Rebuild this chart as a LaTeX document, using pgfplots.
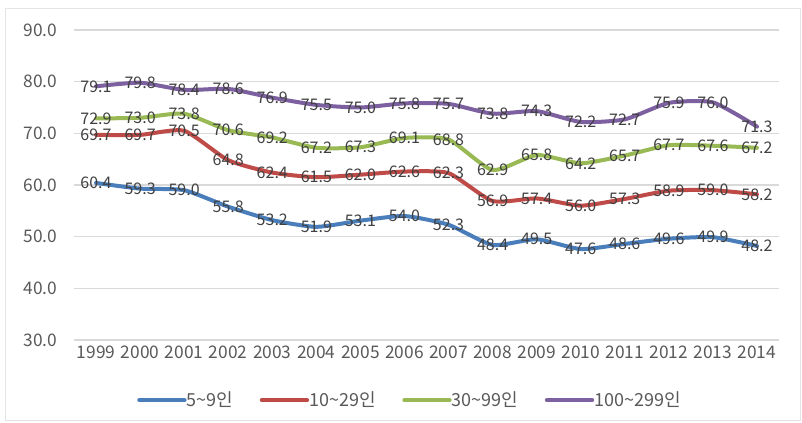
\documentclass[border=0pt]{standalone}
\usepackage{fontspec}
\setmainfont{Noto Sans CJK KR}
\usepackage{pgfplots}
\pgfplotsset{compat=1.18}
\usepackage{pgfplotstable}

\definecolor{sBlue}{HTML}{4A7EBB}
\definecolor{sRed}{HTML}{BE4B48}
\definecolor{sGreen}{HTML}{98B954}
\definecolor{sPurple}{HTML}{7D60A0}
\definecolor{gridgray}{HTML}{D9D9D9}
\definecolor{ticktext}{HTML}{595959}
\definecolor{labeltext}{HTML}{404040}

% year index, share by establishment size
\pgfplotstableread{
x  a     b     c     d
0  60.4  69.7  72.9  79.1
1  59.3  69.7  73.0  79.8
2  59.0  70.5  73.8  78.4
3  55.8  64.8  70.6  78.6
4  53.2  62.4  69.2  76.9
5  51.9  61.5  67.2  75.5
6  53.1  62.0  67.3  75.0
7  54.0  62.6  69.1  75.8
8  52.3  62.3  68.8  75.7
9  48.4  56.9  62.9  73.8
10 49.5  57.4  65.8  74.3
11 47.6  56.0  64.2  72.2
12 48.6  57.3  65.7  72.7
13 49.6  58.9  67.7  75.9
14 49.9  59.0  67.6  76.0
15 48.2  58.2  67.2  71.3
}\datatable

\begin{document}
\begin{tikzpicture}
\path[use as bounding box] (0pt,0pt) rectangle (601.5pt,316.5pt);
\draw[gridgray!70, line width=0.6pt] (3.75pt,1.5pt) rectangle (600pt,310.5pt);
\begin{axis}[
  at={(55.5pt,61.5pt)}, anchor=south west,
  scale only axis,
  width=528.75pt, height=232.5pt,
  xmin=-0.5, xmax=15.5,
  ymin=30, ymax=90,
  ytick={30,40,...,90},
  xtick={0,...,15},
  xticklabels={1999,2000,2001,2002,2003,2004,2005,2006,2007,2008,2009,2010,2011,2012,2013,2014},
  axis line style={draw=none},
  major tick length=0pt,
  ymajorgrids,
  grid style={gridgray, line width=0.8pt},
  tick label style={font=\fontsize{13}{15}\selectfont, text=ticktext},
  yticklabel style={xshift=-9pt},
  xticklabel style={yshift=-1pt},
  /pgf/number format/.cd, fixed, zerofill, precision=1, assume math mode=true,
  /pgfplots/.cd,
  clip=false,
  nodes near coords,
  every node near coord/.append style={anchor=center, font=\fontsize{12}{14}\selectfont, text=labeltext},
  legend columns=4,
  legend style={draw=none, fill=none, at={(0.477,-0.194)}, anchor=center,
    font=\fontsize{13.5}{15}\selectfont, text=ticktext,
    /tikz/every even column/.append style={column sep=18pt},
    /tikz/every odd column/.append style={column sep=-2pt}},
  legend image code/.code={\draw[line width=3pt] (0pt,0pt) -- (34pt,0pt);},
  every axis plot/.append style={line width=3pt, line join=round, line cap=round, mark=none, smooth, tension=0.35},
]
\addplot[sBlue] table[x=x,y=a] {\datatable};
\addlegendentry{5\textasciitilde 9인}
\addplot[sRed] table[x=x,y=b] {\datatable};
\addlegendentry{10\textasciitilde 29인}
\addplot[sGreen] table[x=x,y=c] {\datatable};
\addlegendentry{30\textasciitilde 99인}
\addplot[sPurple] table[x=x,y=d] {\datatable};
\addlegendentry{100\textasciitilde 299인}
\end{axis}
\end{tikzpicture}
\end{document}
